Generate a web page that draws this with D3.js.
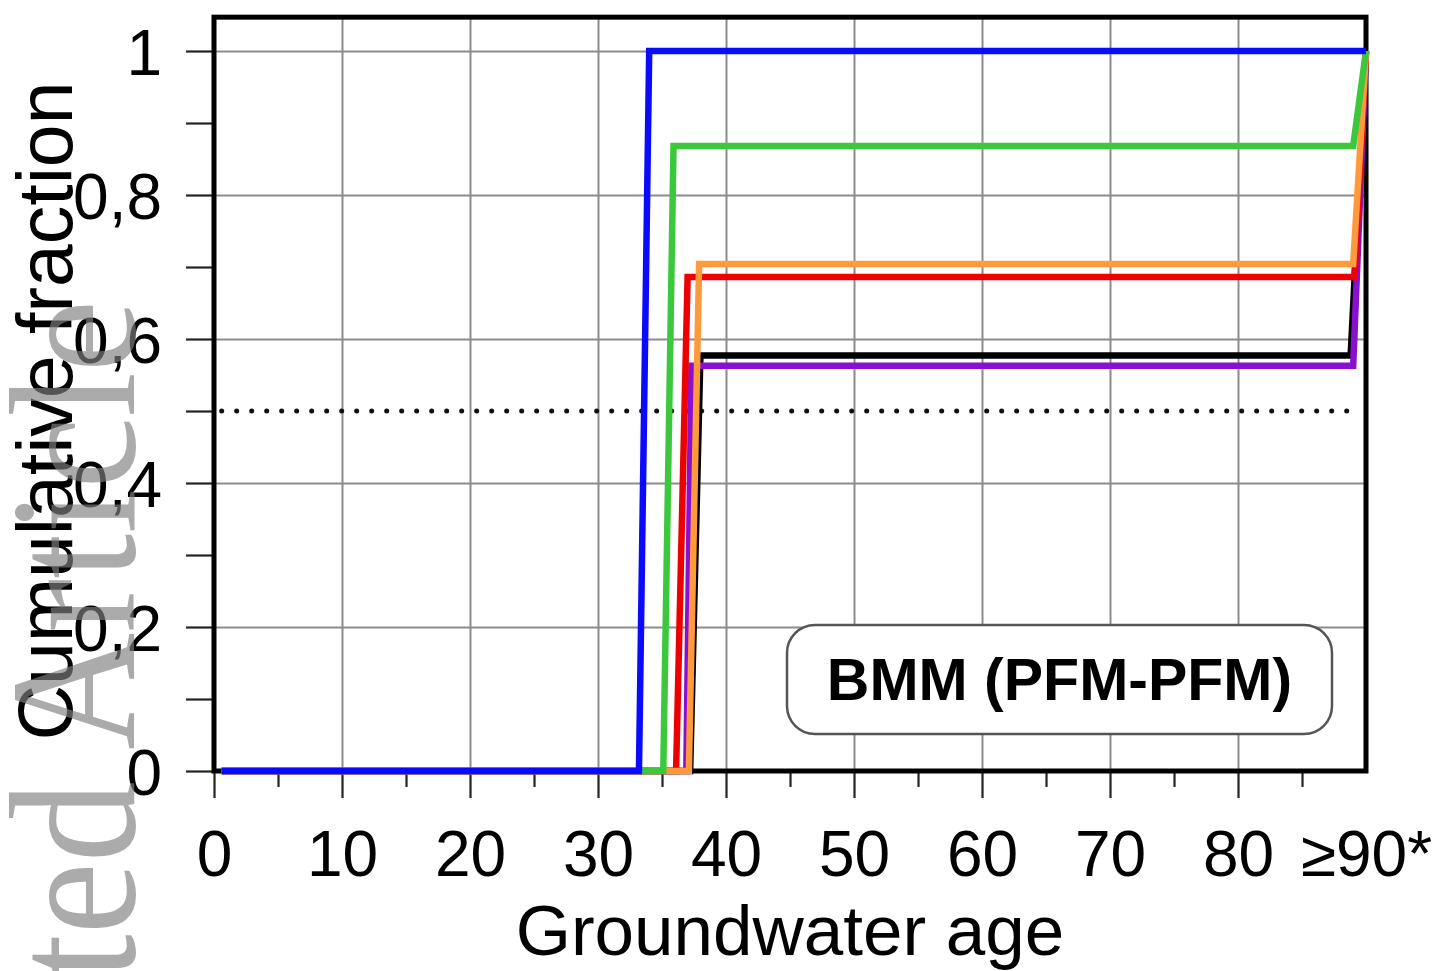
<!DOCTYPE html>
<html>
<head>
<meta charset="utf-8">
<script src="https://cdn.jsdelivr.net/npm/d3@7"></script>
<style>
  html, body { margin: 0; padding: 0; background: #fff; }
  svg { display: block; }
  text { font-family: "Liberation Sans", Arial, sans-serif; }
</style>
</head>
<body>
<svg id="chart" width="1442" height="971"></svg>
<script>
// ---- data ----
const xMajorTicks = [0, 10, 20, 30, 40, 50, 60, 70, 80, 90];
const xTickLabels = ["0", "10", "20", "30", "40", "50", "60", "70", "80", "\u226590*"];
const xMinorTicks = [5, 15, 25, 35, 45, 55, 65, 75, 85];
const yLabelTicks = [0, 0.2, 0.4, 0.6, 0.8, 1];
const yTickLabels = ["0", "0,2", "0,4", "0,6", "0,8", "1"];
const yAllTicks = [0, 0.1, 0.2, 0.3, 0.4, 0.5, 0.6, 0.7, 0.8, 0.9, 1];

const ageBlack  = [0.6, 37.2, 38.0, 88.8, 90];
const fracBlack = [0, 0, 0.577, 0.577, 1];
const agePurple  = [0.6, 36.9, 37.3, 89.0, 90];
const fracPurple = [0, 0, 0.563, 0.563, 1];
const ageRed  = [0.6, 36.1, 37.0, 89.1, 90];
const fracRed = [0, 0, 0.686, 0.686, 1];
const ageOrange  = [0.6, 37.1, 37.9, 89.0, 90];
const fracOrange = [0, 0, 0.704, 0.704, 1];
const ageGreen  = [0.6, 35.1, 35.9, 89.0, 90];
const fracGreen = [0, 0, 0.868, 0.868, 1];
const ageBlue  = [0.6, 33.2, 34.0, 90];
const fracBlue = [0, 0, 1, 1];

const medianAge = [0.6, 89.2];
const medianFrac = [0.5, 0.5];

const seriesNames  = ["black", "purple", "red", "orange", "green", "blue"];
const seriesColors = ["#000000", "#8a10d0", "#ee0000", "#ff9a3c", "#3cc83c", "#0a0aff"];
const seriesAges = [ageBlack, agePurple, ageRed, ageOrange, ageGreen, ageBlue];
const seriesFracs = [fracBlack, fracPurple, fracRed, fracOrange, fracGreen, fracBlue];

const xTitle = "Groundwater age";
const yTitle = "Cumulative fraction";
const boxLabel = "BMM (PFM-PFM)";
const watermark = "Accepted Article";

// ---- layout ----
const svg = d3.select("#chart");
const left = 214, right = 1366, bottom = 771, yOne = 51;
const x = d3.scaleLinear().domain([0, 90]).range([left, right]);
const y = d3.scaleLinear().domain([0, 1]).range([bottom, yOne]);
const yTopVal = 1.047;

svg.append("rect").attr("width", 1442).attr("height", 971).attr("fill", "#fff");

// grid
const gGridX = svg.append("g").attr("transform", `translate(0,${bottom})`)
  .call(d3.axisBottom(x).tickValues([10,20,30,40,50,60,70,80]).tickSize(-(bottom - y(yTopVal))).tickFormat(""));
gGridX.select(".domain").remove();
gGridX.selectAll("line").attr("stroke", "#8c8c8c").attr("stroke-width", 2);

const gGridY = svg.append("g").attr("transform", `translate(${left},0)`)
  .call(d3.axisLeft(y).tickValues([0.2,0.4,0.6,0.8,1]).tickSize(-(right - left)).tickFormat(""));
gGridY.select(".domain").remove();
gGridY.selectAll("line").attr("stroke", "#8c8c8c").attr("stroke-width", 2);

// y axis ticks
const gY = svg.append("g").attr("transform", `translate(${left},0)`)
  .call(d3.axisLeft(y).tickValues(yAllTicks).tickSize(28).tickPadding(24)
    .tickFormat(d => { const i = yLabelTicks.findIndex(v => Math.abs(v - d) < 1e-9); return i >= 0 ? yTickLabels[i] : ""; }));
gY.select(".domain").remove();
gY.selectAll("line").attr("stroke", "#222").attr("stroke-width", 2.2);
gY.selectAll("text").attr("font-size", 64).attr("fill", "#000").attr("dy", "0.36em")
  .style("font-family", '"Liberation Sans", Arial, sans-serif');

// x axis ticks
const gXm = svg.append("g").attr("transform", `translate(0,${bottom})`)
  .call(d3.axisBottom(x).tickValues(xMinorTicks).tickSize(16).tickFormat(""));
gXm.select(".domain").remove();
gXm.selectAll("line").attr("stroke", "#222").attr("stroke-width", 2.2);

const gX = svg.append("g").attr("transform", `translate(0,${bottom})`)
  .call(d3.axisBottom(x).tickValues(xMajorTicks).tickSize(27).tickPadding(33)
    .tickFormat((d, i) => xTickLabels[i]));
gX.select(".domain").remove();
gX.selectAll("line").attr("stroke", "#222").attr("stroke-width", 2.2)
  .filter(d => d === 90).remove();
gX.selectAll("text").attr("font-size", 64).attr("fill", "#000")
  .style("font-family", '"Liberation Sans", Arial, sans-serif');

// median dotted line
const line = d3.line().x(d => x(d[0])).y(d => y(d[1]));
svg.append("path")
  .attr("d", line(medianAge.map((a, i) => [a, medianFrac[i]])))
  .attr("fill", "none").attr("stroke", "#111").attr("stroke-width", 5)
  .attr("stroke-linecap", "round").attr("stroke-dasharray", "0,15");

// frame
svg.append("rect")
  .attr("x", left).attr("y", y(yTopVal))
  .attr("width", right - left).attr("height", bottom - y(yTopVal))
  .attr("fill", "none").attr("stroke", "#000").attr("stroke-width", 5);

// series
seriesNames.forEach((name, k) => {
  const pts = seriesAges[k].map((a, i) => [a, seriesFracs[k][i]]);
  svg.append("path")
    .attr("class", "series-" + name)
    .attr("d", line(pts))
    .attr("fill", "none")
    .attr("stroke", seriesColors[k])
    .attr("stroke-width", 6.5)
    .attr("stroke-linejoin", "miter");
});

// label box
const bx = 787, by = 625, bw = 545, bh = 109;
svg.append("rect").attr("x", bx).attr("y", by).attr("width", bw).attr("height", bh)
  .attr("rx", 28).attr("ry", 28).attr("fill", "#fff").attr("stroke", "#555").attr("stroke-width", 2.5);
svg.append("text").attr("x", bx + bw / 2).attr("y", 700)
  .attr("text-anchor", "middle").attr("font-size", 59).attr("font-weight", "bold")
  .attr("fill", "#000").text(boxLabel);

// axis titles
svg.append("text").attr("x", (left + right) / 2).attr("y", 955)
  .attr("text-anchor", "middle").attr("font-size", 71).attr("fill", "#000").text(xTitle);
svg.append("text").attr("transform", `translate(72,${y(0.5)}) rotate(-90)`)
  .attr("text-anchor", "middle").attr("font-size", 77).attr("fill", "#000").text(yTitle);

// watermark
svg.append("text").attr("transform", "translate(134,300) rotate(-90) scale(1.08,1.2)")
  .attr("text-anchor", "end").attr("font-size", 150)
  .style("font-family", '"Liberation Serif", "Times New Roman", serif')
  .attr("fill", "#808080").attr("opacity", 0.66).text(watermark);
</script>
</body>
</html>
